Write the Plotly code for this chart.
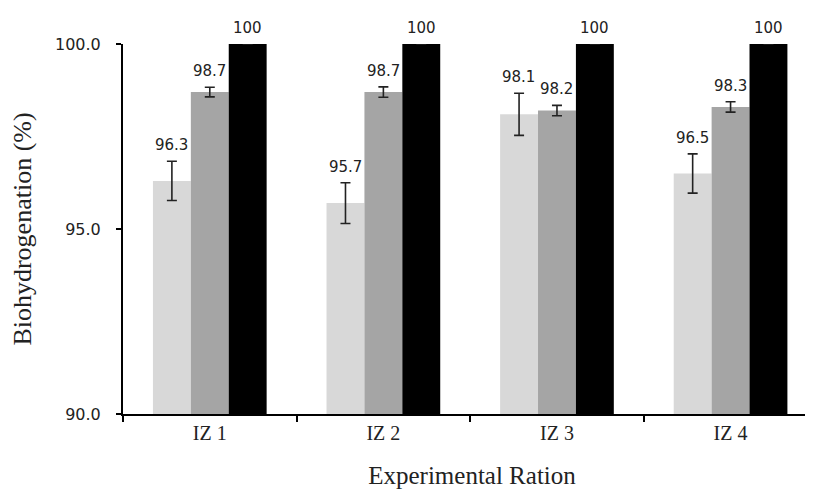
import plotly.graph_objects as go

categories = ["IZ 1", "IZ 2", "IZ 3", "IZ 4"]
series_names = ["Series 1", "Series 2", "Series 3"]
series1 = [96.3, 95.7, 98.1, 96.5]
series2 = [98.7, 98.7, 98.2, 98.3]
series3 = [100, 100, 100, 100]
err1 = [0.53, 0.55, 0.57, 0.53]
err2 = [0.13, 0.14, 0.14, 0.14]
err3 = [0, 0, 0, 0]
labels1 = ["96.3", "95.7", "98.1", "96.5"]
labels2 = ["98.7", "98.7", "98.2", "98.3"]
labels3 = ["100", "100", "100", "100"]

colors = ["#d8d8d8", "#a5a5a5", "#000000"]
values = [series1, series2, series3]
errors = [err1, err2, err3]
labels = [labels1, labels2, labels3]
shifts = [-38, 0, 38]

fig = go.Figure()
for name, vals, errs, col in zip(series_names, values, errors, colors):
    fig.add_trace(go.Bar(
        x=categories, y=vals, name=name,
        marker=dict(color=col, line=dict(width=0)),
        error_y=dict(type="data", array=errs, visible=True,
                     color="#222222", thickness=1.6, width=5),
        showlegend=False,
    ))

for vals, errs, labs, xs in zip(values, errors, labels, shifts):
    for c, v, e, t in zip(categories, vals, errs, labs):
        fig.add_annotation(x=c, y=v + e, text=t, showarrow=False,
                           xshift=xs, yshift=16, yanchor="middle",
                           font=dict(family="DejaVu Sans", size=15, color="#222222"))

fig.update_layout(
    width=813, height=490,
    margin=dict(l=115, r=0, t=36, b=84, autoexpand=False),
    paper_bgcolor="white", plot_bgcolor="white",
    barmode="group", bargap=0.345, bargroupgap=0,
    xaxis=dict(
        range=[-0.5, 3.521], showline=True, linecolor="black", linewidth=2,
        ticks="outside", tickson="boundaries", ticklen=6, tickwidth=2, tickcolor="black",
        showgrid=False, zeroline=False,
        tickfont=dict(family="Liberation Serif", size=20, color="#222222"),
        title=dict(text="Experimental Ration", standoff=23,
                   font=dict(family="Liberation Serif", size=25, color="#222222")),
    ),
    yaxis=dict(
        range=[90, 100], tickvals=[90, 95, 100], tickformat=".1f",
        showline=True, linecolor="black", linewidth=2,
        ticks="outside", ticklen=5, tickwidth=2, tickcolor="black",
        ticklabelstandoff=12,
        showgrid=False, zeroline=False,
        tickfont=dict(family="DejaVu Sans", size=16, color="#222222"),
        title=dict(text="Biohydrogenation (%)", standoff=18,
                   font=dict(family="Liberation Serif", size=26, color="#222222")),
    ),
)

fig.write_html("out.html")
